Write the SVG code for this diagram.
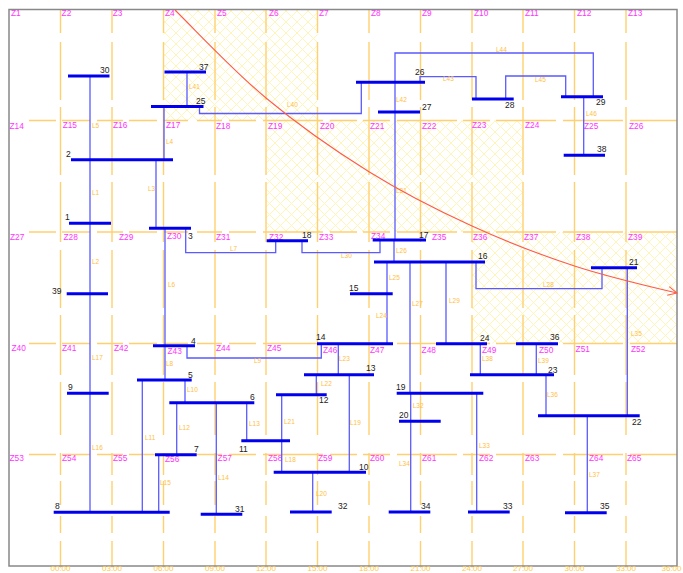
<svg xmlns="http://www.w3.org/2000/svg" width="683" height="573" viewBox="0 0 683 573">
<style>
text{font-family:"Liberation Sans",Arial,sans-serif}
.v{stroke:#ffd070;stroke-width:1.4;fill:none;stroke-dasharray:24 9 58 7 68 7 60 8 58 7 60 7 53 18 22 6 24 11 17 8 25}
.h{stroke:#ffd070;stroke-width:1.4;fill:none;stroke-dasharray:0 20 27 6 28 7 26 6 28 6 25 9 25 7 27 7 60 7 27 6 27 7 60 6 27 6 60 7 60 7 47}
.z{font-size:8.3px;fill:#ff33ff}
.t{font-size:8px;fill:#ffc848;text-anchor:middle}
.l{font-size:6.5px;fill:#ffc040}
.n{font-size:8.5px;fill:#222}
.c{fill:none;stroke:#5a5aff;stroke-width:1.3}
.b{stroke:#0000ee;stroke-width:3;fill:none}
</style>
<defs>
<pattern id="hatch" width="11" height="11" patternUnits="userSpaceOnUse">
<path d="M-1,1 L1,-1 M0,11 L11,0 M10,12 L12,10 M-1,10 L1,12 M0,0 L11,11 M10,-1 L12,1" stroke="#fff5b8" stroke-width="1" fill="none"/>
</pattern>
<marker id="arrow" markerWidth="12" markerHeight="12" refX="10" refY="6" orient="auto" markerUnits="userSpaceOnUse">
<path d="M1,1.5 L10,6 L1,10.5" fill="none" stroke="#ff5a48" stroke-width="1"/>
</marker>
</defs>
<rect width="683" height="573" fill="#fff"/>
<g id="hatched-zones" fill="url(#hatch)">
<rect x="163.5" y="9" width="154" height="111.5"/>
<rect x="266" y="120.5" width="257" height="111.5"/>
<rect x="472" y="232" width="205" height="111.5"/>
</g>
<g id="grid">
<path class="v" d="M60.5,9V566"/><path class="v" d="M112,9V566"/><path class="v" d="M163.5,9V566"/><path class="v" d="M215,9V566"/><path class="v" d="M266,9V566"/><path class="v" d="M317.5,9V566"/><path class="v" d="M369,9V566"/><path class="v" d="M420.5,9V566"/><path class="v" d="M472,9V566"/><path class="v" d="M523,9V566"/><path class="v" d="M574.5,9V566"/><path class="v" d="M626,9V566"/>
<path class="h" d="M9,120.5H677"/><path class="h" d="M9,232H677"/><path class="h" d="M9,343.5H677"/><path class="h" d="M9,454.5H677"/>
</g>
<rect id="frame" x="9" y="9.5" width="668" height="556.5" fill="none" stroke="#888" stroke-width="1.5"/>
<g id="zones" class="z">
<text x="11" y="15.7">Z1</text><text x="61.6" y="15.7">Z2</text><text x="112.7" y="15.7">Z3</text><text x="165" y="15.7">Z4</text><text x="217" y="15.7">Z5</text><text x="269" y="15.7">Z6</text><text x="319" y="15.7">Z7</text><text x="371" y="15.7">Z8</text><text x="422" y="15.7">Z9</text><text x="474" y="15.7">Z10</text><text x="525" y="15.7">Z11</text><text x="577" y="15.7">Z12</text><text x="628" y="15.7">Z13</text>
<text x="9.5" y="129">Z14</text><text x="62.7" y="128">Z15</text><text x="113" y="128">Z16</text><text x="166" y="128">Z17</text><text x="216" y="129">Z18</text><text x="268" y="129">Z19</text><text x="320" y="129">Z20</text><text x="370" y="129">Z21</text><text x="422" y="129">Z22</text><text x="472" y="127.5">Z23</text><text x="525" y="127.5">Z24</text><text x="584" y="128.5">Z25</text><text x="629" y="129">Z26</text>
<text x="10" y="240">Z27</text><text x="63.5" y="240">Z28</text><text x="119" y="240">Z29</text><text x="167" y="238.5">Z30</text><text x="216" y="240">Z31</text><text x="269" y="239.5">Z32</text><text x="319" y="239.5">Z33</text><text x="371" y="239">Z34</text><text x="432" y="239.5">Z35</text><text x="473" y="239.5">Z36</text><text x="524" y="239.5">Z37</text><text x="576" y="239.5">Z38</text><text x="628" y="240">Z39</text>
<text x="11.5" y="350.5">Z40</text><text x="62" y="350.5">Z41</text><text x="114" y="350.5">Z42</text><text x="167.5" y="353.7">Z43</text><text x="216" y="350.5">Z44</text><text x="267" y="350.5">Z45</text><text x="323" y="352.5">Z46</text><text x="370" y="353">Z47</text><text x="421.6" y="352.5">Z48</text><text x="482" y="352.5">Z49</text><text x="539" y="352.5">Z50</text><text x="575.6" y="351.5">Z51</text><text x="631" y="351.5">Z52</text>
<text x="9.5" y="461">Z53</text><text x="62" y="461">Z54</text><text x="113" y="461">Z55</text><text x="165" y="461.5">Z56</text><text x="217.6" y="461">Z57</text><text x="268" y="461">Z58</text><text x="318" y="460.5">Z59</text><text x="370" y="461">Z60</text><text x="422" y="461">Z61</text><text x="479" y="461">Z62</text><text x="525" y="461">Z63</text><text x="589" y="461">Z64</text><text x="627" y="461">Z65</text>
</g>
<g id="ticks" class="t">
<text x="60.5" y="571">00:00</text><text x="112" y="571">03:00</text><text x="163.5" y="571">06:00</text><text x="215" y="571">09:00</text><text x="266" y="571">12:00</text><text x="317.5" y="571">15:00</text><text x="369" y="571">18:00</text><text x="420.5" y="571">21:00</text><text x="472" y="571">24:00</text><text x="523" y="571">27:00</text><text x="574.5" y="571">30:00</text><text x="626" y="571">33:00</text><text x="671.5" y="571">36:00</text>
</g>
<g id="connectors">
<g class="c">
<path d="M90,76V159.7"/><path d="M90,159.7V223.3"/><path d="M90,223.3V293.7"/><path d="M90,293.7V393.3"/><path d="M90,393.3V512.3"/>
<path d="M156,159.7V228.3"/><path d="M164,106.5V159.7"/><path d="M165,228.3V345.7"/><path d="M165,345.7V380"/>
<path d="M187,72V106.5"/><path d="M199.5,106.5V113.5H361.3V82.3"/>
<path d="M395,82.3V53H593.3V96.7"/><path d="M395,82.3V112"/><path d="M395,112V240"/><path d="M394,240V262"/>
<path d="M420,82.3V76.7H476V99"/><path d="M505.7,99V76H565.7V96.7"/><path d="M583.7,96.7V155.3"/>
<path d="M185.7,228.3V252.7H275.7V240.7"/><path d="M302,240.7V252.7H380V240"/>
<path d="M187,345.7V358H321.3V343.7"/>
<path d="M387,262V293.7"/><path d="M387,293.7V343.7"/><path d="M410,262V393.3"/><path d="M446,262V343.7"/>
<path d="M476,262V288.7H602V267.7"/><path d="M627.3,267.7V415.7"/>
<path d="M480.3,343.7V374.7"/><path d="M536.3,343.7V374.7"/><path d="M546,374.7V415.7"/><path d="M587.3,415.7V512.7"/>
<path d="M476.7,393.3V512"/><path d="M410.7,393.3V421.3"/><path d="M410.7,421.3V512"/>
<path d="M338.3,343.7V374.7"/><path d="M316.3,374.7V394.7"/><path d="M349.3,374.7V472.3"/>
<path d="M281.7,394.7V440.7"/><path d="M281.7,440.7V472.3"/><path d="M312.7,472.3V512"/>
<path d="M246.7,402.7V440.7"/><path d="M216.3,402.7V514.3"/><path d="M176.7,402.7V454.7"/><path d="M185,380V402.7"/><path d="M142.3,380V512.3"/><path d="M158.7,454.7V512.3"/>
</g>
<g class="l">
<text x="92" y="195">L1</text><text x="92" y="264">L2</text><text x="148" y="190.7">L3</text><text x="166" y="144">L4</text><text x="92" y="128">L5</text><text x="168" y="287">L6</text><text x="230" y="251">L7</text><text x="166" y="366">L8</text><text x="254" y="363">L9</text><text x="187" y="392">L10</text><text x="145" y="440">L11</text><text x="179" y="430">L12</text><text x="249" y="426">L13</text><text x="218" y="480">L14</text><text x="160" y="485">L15</text><text x="92" y="450">L16</text><text x="92" y="360">L17</text><text x="285" y="462">L18</text><text x="350" y="425">L19</text><text x="316" y="496">L20</text><text x="284" y="423.7">L21</text><text x="321" y="386">L22</text><text x="339" y="360.7">L23</text><text x="376" y="318">L24</text><text x="389" y="280">L25</text><text x="396" y="252.7">L26</text><text x="412" y="305.7">L27</text><text x="543" y="286.7">L28</text><text x="449" y="302.7">L29</text><text x="341" y="258">L30</text><text x="396" y="193">L31</text><text x="412.7" y="408">L32</text><text x="479" y="447.7">L33</text><text x="399" y="466">L34</text><text x="631" y="336">L35</text><text x="547" y="397">L36</text><text x="589" y="476.7">L37</text><text x="482" y="361">L38</text><text x="538" y="362.7">L39</text><text x="287" y="106.7">L40</text><text x="189" y="89">L41</text><text x="396" y="102">L42</text><text x="443" y="81">L43</text><text x="496" y="52">L44</text><text x="535" y="82">L45</text><text x="586" y="116">L46</text>
</g>
</g>
<g id="bus1"><path class="b" d="M69,223.3H111"/><text class="n" x="65" y="220">1</text></g>
<g id="bus2"><path class="b" d="M71,159.7H173"/><text class="n" x="66" y="156.7">2</text></g>
<g id="bus3"><path class="b" d="M149,228.3H191"/><text class="n" x="188" y="239">3</text></g>
<g id="bus4"><path class="b" d="M153,345.7H195"/><text class="n" x="191" y="343.7">4</text></g>
<g id="bus5"><path class="b" d="M137,380H191.7"/><text class="n" x="188" y="377.7">5</text></g>
<g id="bus6"><path class="b" d="M169.3,402.7H254.3"/><text class="n" x="250" y="400">6</text></g>
<g id="bus7"><path class="b" d="M155,454.7H196.7"/><text class="n" x="194" y="452">7</text></g>
<g id="bus8"><path class="b" d="M53.7,512.3H169.7"/><text class="n" x="55" y="508.7">8</text></g>
<g id="bus9"><path class="b" d="M67,393.3H108.7"/><text class="n" x="68" y="390">9</text></g>
<g id="bus10"><path class="b" d="M273.7,472.3H366"/><text class="n" x="359" y="470">10</text></g>
<g id="bus11"><path class="b" d="M241.3,440.7H290"/><text class="n" x="239" y="452.3">11</text></g>
<g id="bus12"><path class="b" d="M276,394.7H326.7"/><text class="n" x="319" y="403">12</text></g>
<g id="bus13"><path class="b" d="M304,374.7H374"/><text class="n" x="366" y="371">13</text></g>
<g id="bus14"><path class="b" d="M317,343.7H393"/><text class="n" x="316" y="340">14</text></g>
<g id="bus15"><path class="b" d="M350,293.7H392.7"/><text class="n" x="349" y="291">15</text></g>
<g id="bus16"><path class="b" d="M374,262H485"/><text class="n" x="478" y="259">16</text></g>
<g id="bus17"><path class="b" d="M372.7,240H426"/><text class="n" x="419" y="237.7">17</text></g>
<g id="bus18"><path class="b" d="M266.7,240.7H308"/><text class="n" x="302" y="238">18</text></g>
<g id="bus19"><path class="b" d="M396.7,393.3H483.3"/><text class="n" x="396" y="390">19</text></g>
<g id="bus20"><path class="b" d="M399,421.3H440.7"/><text class="n" x="399" y="418">20</text></g>
<g id="bus21"><path class="b" d="M591,267.7H637"/><text class="n" x="629" y="265">21</text></g>
<g id="bus22"><path class="b" d="M538,415.7H639.7"/><text class="n" x="632" y="424.7">22</text></g>
<g id="bus23"><path class="b" d="M470,374.7H554"/><text class="n" x="548" y="372.7">23</text></g>
<g id="bus24"><path class="b" d="M436,343.7H487"/><text class="n" x="480" y="341">24</text></g>
<g id="bus25"><path class="b" d="M151,106.5H203.5"/><text class="n" x="196" y="104">25</text></g>
<g id="bus26"><path class="b" d="M356,82.3H425"/><text class="n" x="415" y="74.7">26</text></g>
<g id="bus27"><path class="b" d="M378,112H420"/><text class="n" x="422" y="110">27</text></g>
<g id="bus28"><path class="b" d="M472,99H513.7"/><text class="n" x="505" y="108">28</text></g>
<g id="bus29"><path class="b" d="M561,96.7H603"/><text class="n" x="596" y="105">29</text></g>
<g id="bus30"><path class="b" d="M68,76H109.5"/><text class="n" x="100" y="73">30</text></g>
<g id="bus31"><path class="b" d="M200.7,514.3H242.3"/><text class="n" x="235" y="512.3">31</text></g>
<g id="bus32"><path class="b" d="M290,512H331.7"/><text class="n" x="338" y="509">32</text></g>
<g id="bus33"><path class="b" d="M468,512H509.7"/><text class="n" x="503" y="508.7">33</text></g>
<g id="bus34"><path class="b" d="M388.7,512H430.3"/><text class="n" x="421" y="509.3">34</text></g>
<g id="bus35"><path class="b" d="M565,512.7H606.7"/><text class="n" x="600" y="509.3">35</text></g>
<g id="bus36"><path class="b" d="M516,343.7H558"/><text class="n" x="550" y="340">36</text></g>
<g id="bus37"><path class="b" d="M164.5,72H206"/><text class="n" x="199" y="70">37</text></g>
<g id="bus38"><path class="b" d="M563.7,155.3H605"/><text class="n" x="597" y="152">38</text></g>
<g id="bus39"><path class="b" d="M66.7,293.7H108"/><text class="n" x="52" y="294">39</text></g>
<path id="trajectory" d="M175,10C205,40 233.7,71 266,98C298.3,125 334.7,150.4 369,171.7C403.3,193 437.7,210.3 472,226C506.3,241.7 540.3,254.8 574.5,266C608.7,277.2 643,285 677,293" fill="none" stroke="#ff5a48" stroke-width="1.1" marker-end="url(#arrow)"/>
</svg>
